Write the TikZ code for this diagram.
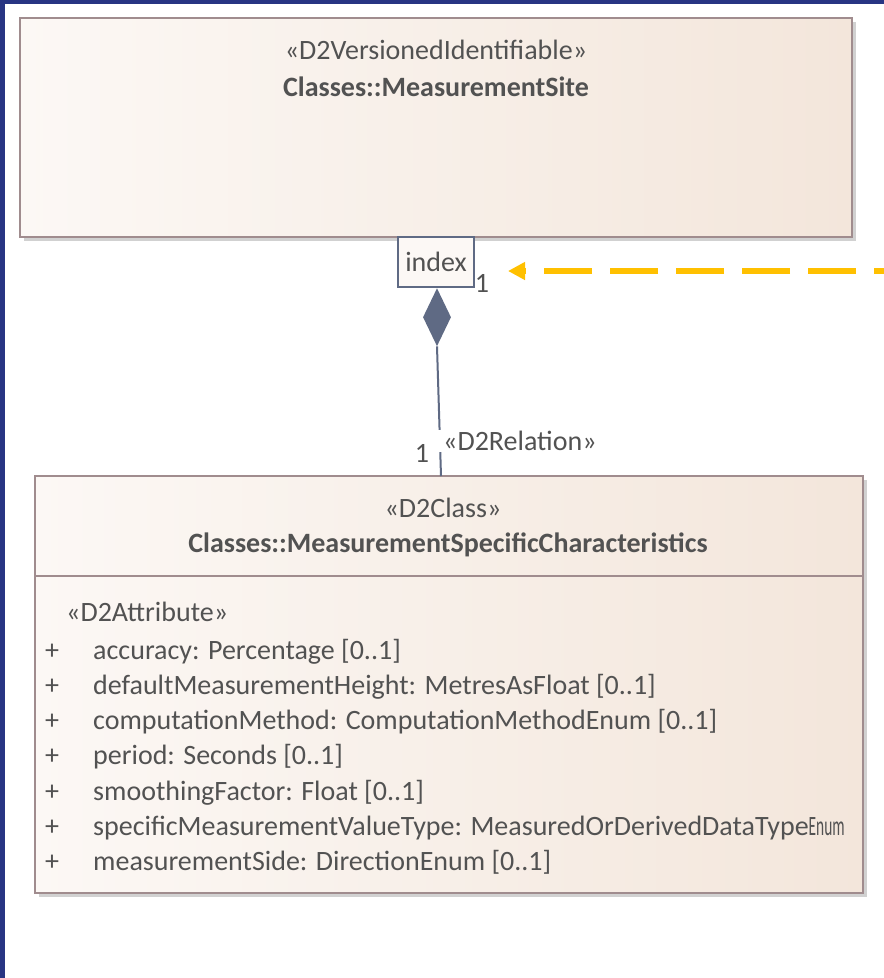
\documentclass[tikz,border=0pt]{standalone}
\usepackage{fontspec}
\usepackage{graphicx}
\setmainfont{Carlito}
\usetikzlibrary{arrows.meta,shapes.geometric,shadows}
\definecolor{frameblue}{HTML}{283583}
\definecolor{boxline}{HTML}{A08C8E}
\definecolor{boxleft}{HTML}{FCF8F5}
\definecolor{boxright}{HTML}{F3E6DB}
\definecolor{linkgrey}{HTML}{5F6A84}
\definecolor{txtgrey}{HTML}{525252}
\definecolor{noteyellow}{HTML}{FFC000}
\begin{document}
\begin{tikzpicture}[x=1pt,y=-1pt,
  every node/.style={text=txtgrey,font=\fontsize{28}{33}\selectfont},
  classbox/.style={draw=boxline,line width=2,left color=boxleft,right color=boxright,
    drop shadow={shadow xshift=4pt,shadow yshift=-4pt,fill=black!18,opacity=1},inner sep=0pt},
  txt/.style={anchor=base,inner sep=0pt},
  attr/.style={anchor=base west,inner sep=0pt}]
\useasboundingbox (0,0) rectangle (884,978);
\fill[white] (0,0) rectangle (884,978);
\fill[frameblue] (0,0) rectangle (884,4);
\fill[frameblue] (0,0) rectangle (5,978);
% class boxes
\node[classbox,minimum width=832,minimum height=219] (site) at (436,127.5) {};
\node[txt] (siteStereo) at (436,59) {«D2VersionedIdentifiable»};
\node[txt] (siteName) at (436,96) {\bfseries Classes::MeasurementSite};
\node[classbox,minimum width=828,minimum height=417] (msc) at (449,684.5) {};
\draw[boxline,line width=2] (msc.west |- 0,576) -- (msc.east |- 0,576);
\node[txt] (mscStereo) at (443,517) {«D2Class»};
\node[txt] (mscName) at (448,552) {\bfseries Classes::MeasurementSpecificCharacteristics};
\node[attr] (attrStereo) at (66,621) {«D2Attribute»};
\node[attr] (p1) at (45,659) {+}; \node[attr] (a1) at (93,659) {accuracy: Percentage [0..1]};
\node[attr] (p2) at (45,694) {+}; \node[attr] (a2) at (93,694) {defaultMeasurementHeight: MetresAsFloat [0..1]};
\node[attr] (p3) at (45,729) {+}; \node[attr] (a3) at (93,729) {computationMethod: ComputationMethodEnum [0..1]};
\node[attr] (p4) at (45,764) {+}; \node[attr] (a4) at (93,764) {period: Seconds [0..1]};
\node[attr] (p5) at (45,800) {+}; \node[attr] (a5) at (93,800) {smoothingFactor: Float [0..1]};
\node[attr] (p6) at (45,835) {+}; \node[attr] (a6) at (93,835) {specificMeasurementValueType: MeasuredOrDerivedDataType\scalebox{0.55}[1]{Enum}};
\node[attr] (p7) at (45,870) {+}; \node[attr] (a7) at (93,870) {measurementSide: DirectionEnum [0..1]};
% qualifier and composition
\node[draw=linkgrey,line width=2,fill=boxleft,minimum width=76,minimum height=50,inner sep=0pt] (index) at (436,262) {index};
\node[txt] (idxMult) at (482,292) {1};
\node[diamond,fill=linkgrey,minimum width=28,minimum height=58,inner sep=0pt,anchor=north] (comp) at (437,288) {};
\coordinate (relEnd) at (441,476);
\draw[linkgrey,line width=2] (comp.south) -- (relEnd);
\node[anchor=west,fill=white,inner xsep=9pt,inner ysep=1pt] (relLabel) at (434,441) {«D2Relation»};
\node[txt] (relMult) at (422,462) {1};
% note link
\coordinate (noteEnd) at (884,271);
\draw[noteyellow,line width=6,dash pattern=on 48 off 18,dash phase=38,
  -{Triangle[length=17pt,width=17pt]},shorten >=33] (noteEnd) -- (index.east |- noteEnd);
\end{tikzpicture}
\end{document}
